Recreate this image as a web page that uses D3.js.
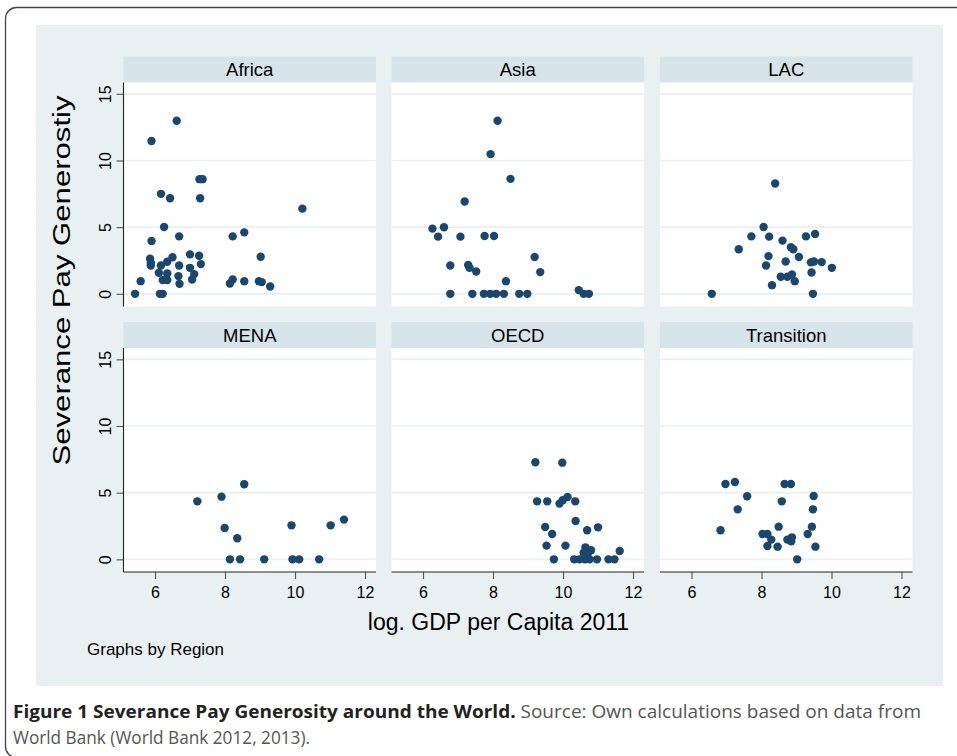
<!DOCTYPE html>
<html>
<head>
<meta charset="utf-8">
<script src="https://cdn.jsdelivr.net/npm/d3@7"></script>
<style>
html,body{margin:0;padding:0;background:#fff;}
svg{display:block;}
</style>
</head>
<body>
<svg id="chart" width="957" height="756"></svg>
<script>
// ---- data (log GDP per capita 2011, severance pay generosity) ----
const regions = ["Africa", "Asia", "LAC", "MENA", "OECD", "Transition"];
const xTicks = [6, 8, 10, 12];
const yTicks = [0, 5, 10, 15];

const africaX = [5.43,5.59,5.90,6.62,6.17,6.43,7.27,7.36,7.29,10.21,6.26,5.90,6.69,8.22,8.55,5.86,5.88,5.88,6.17,6.35,6.50,6.69,7.00,7.26,7.31,7.00,7.12,7.06,6.11,6.35,6.22,6.35,6.67,6.70,6.14,6.22,9.02,8.14,8.22,8.55,8.97,9.05,9.29,6.31];
const africaY = [0,0.95,11.46,12.98,7.50,7.17,8.60,8.60,7.17,6.39,5.01,3.96,4.31,4.31,4.61,2.63,2.33,2.13,2.13,2.41,2.74,2.13,2.96,2.86,2.23,1.95,1.48,1.08,1.58,1.53,1.03,1.03,1.33,0.75,0,0,2.78,0.78,1.08,0.95,0.95,0.88,0.55,1.10];

const asiaX = [8.13,7.93,8.50,7.19,6.27,6.60,6.43,7.07,7.76,8.03,9.19,9.35,6.78,7.29,7.33,7.52,8.37,6.78,7.41,7.74,7.92,8.09,8.31,8.75,8.98,10.45,10.59,10.74];
const asiaY = [12.98,10.48,8.62,6.92,4.89,4.99,4.29,4.29,4.34,4.34,2.76,1.63,2.13,2.16,1.95,1.68,0.95,0,0,0,0,0,0,0,0,0.28,0,0];

const lacX = [8.39,8.06,7.71,8.22,8.60,9.27,9.53,7.35,8.84,8.91,8.20,9.07,8.69,8.13,9.41,9.50,9.72,10.01,9.43,8.55,8.74,8.87,8.95,8.30,6.58,9.47];
const lacY = [8.27,5.01,4.31,4.29,3.99,4.31,4.49,3.34,3.49,3.34,2.83,2.76,2.43,2.13,2.36,2.43,2.38,1.95,1.60,1.28,1.28,1.45,0.95,0.65,0,0];

const menaX = [7.21,7.90,8.55,7.99,8.35,8.14,8.43,9.12,9.90,9.93,10.12,10.69,11.02,11.40];
const menaY = [4.35,4.70,5.63,2.35,1.58,0,0,0,2.55,0,0,0,2.55,2.98];

const oecdX = [9.21,9.98,9.26,9.55,9.90,9.99,10.13,10.35,10.36,9.49,9.69,10.69,11.00,9.53,10.07,10.64,10.80,10.59,10.70,11.62,9.74,10.32,10.47,10.63,10.76,10.97,11.30,11.47];
const oecdY = [7.28,7.25,4.35,4.35,4.18,4.43,4.68,4.35,2.88,2.43,1.90,2.18,2.40,1.03,1.03,0.90,0.68,0.50,0.38,0.63,0,0,0,0,0,0,0,0];

const transitionX = [6.97,7.24,8.66,8.84,7.59,9.49,8.58,7.32,9.47,6.83,8.49,9.44,8.03,8.17,9.32,8.28,8.74,8.87,8.85,8.17,8.46,9.54,9.02];
const transitionY = [5.65,5.80,5.65,5.65,4.73,4.75,4.35,3.75,3.75,2.18,2.45,2.45,1.90,1.90,1.90,1.48,1.48,1.65,1.35,1.00,0.95,0.95,0];

const seriesX = [africaX, asiaX, lacX, menaX, oecdX, transitionX];
const seriesY = [africaY, asiaY, lacY, menaY, oecdY, transitionY];

const xTitle = "log. GDP per Capita 2011";
const yTitle = "Severance Pay Generostiy";
const note = "Graphs by Region";
const captionBold = "Figure 1 Severance Pay Generosity around the World.";
const captionRest = " Source: Own calculations based on data from";
const captionLine2 = "World Bank (World Bank 2012, 2013).";

// ---- layout ----
const svg = d3.select("#chart");
const FONT = "'Liberation Sans', Arial, Helvetica, sans-serif";
const bgCol = "#e8f0f2", headCol = "#d6e4ea", gridCol = "#e8f0f2", dotCol = "#1a476f";

// outer rounded frame
svg.append("rect").attr("x", 5.5).attr("y", 7.5).attr("width", 1000).attr("height", 750)
  .attr("rx", 11).attr("fill", "#fff").attr("stroke", "#444").attr("stroke-width", 1.3);

// graph region background
svg.append("rect").attr("x", 36).attr("y", 25).attr("width", 907).attr("height", 661).attr("fill", bgCol);

const colLeft = [123.5, 391.5, 660];
const plotW = 252.5;
const rowHeadTop = [56.5, 322];
const headH = 26;
const plotH = 224;

const xDomain = [5.1, 5.1 + plotW / 35];
const yDomain = [-0.95, 15.85];

regions.forEach((name, i) => {
  const c = i % 3, r = Math.floor(i / 3);
  const x0 = colLeft[c];
  const hTop = rowHeadTop[r];
  const pTop = hTop + headH;
  const g = svg.append("g");

  // header strip
  g.append("rect").attr("x", x0).attr("y", hTop).attr("width", plotW).attr("height", headH).attr("fill", headCol);
  g.append("text").attr("x", x0 + plotW / 2).attr("y", hTop + 19.5)
    .attr("text-anchor", "middle").attr("font-family", FONT).attr("font-size", 18.5).attr("fill", "#000")
    .text(name);

  // plot area
  g.append("rect").attr("x", x0).attr("y", pTop).attr("width", plotW).attr("height", plotH).attr("fill", "#fff");

  const xs = d3.scaleLinear().domain(xDomain).range([x0, x0 + plotW]);
  const ys = d3.scaleLinear().domain(yDomain).range([pTop + plotH, pTop]);

  // gridlines
  g.selectAll("line.grid").data(yTicks).join("line").attr("class", "grid")
    .attr("x1", x0).attr("x2", x0 + plotW)
    .attr("y1", d => ys(d)).attr("y2", d => ys(d))
    .attr("stroke", gridCol).attr("stroke-width", 1.6);

  // y axis (left column)
  if (c === 0) {
    const ya = g.append("g").attr("transform", `translate(${x0},0)`)
      .call(d3.axisLeft(ys).tickValues(yTicks).tickSize(7).tickSizeOuter(0).tickPadding(6));
    ya.select(".domain").remove();
    ya.append("line").attr("x1", 0).attr("x2", 0).attr("y1", pTop).attr("y2", pTop + plotH)
      .attr("stroke", "#222").attr("stroke-width", 1.1);
    ya.selectAll(".tick line").attr("stroke", "#555").attr("stroke-width", 1.1);
    ya.selectAll(".tick text").remove();
    ya.selectAll(".tick").append("text")
      .attr("transform", "translate(-13,0) rotate(-90)")
      .attr("text-anchor", "middle").attr("font-family", FONT).attr("font-size", 16).attr("fill", "#000")
      .text(d => d);
  }
  // x axis (bottom row)
  if (r === 1) {
    const xa = g.append("g").attr("transform", `translate(0,${pTop + plotH})`)
      .call(d3.axisBottom(xs).tickValues(xTicks).tickSize(7).tickSizeOuter(0).tickPadding(8));
    xa.select(".domain").remove();
    xa.append("line").attr("x1", x0).attr("x2", x0 + plotW).attr("y1", 0).attr("y2", 0)
      .attr("stroke", "#222").attr("stroke-width", 1.1);
    xa.selectAll(".tick line").attr("stroke", "#555").attr("stroke-width", 1.1);
    xa.selectAll(".tick text").attr("font-family", FONT).attr("font-size", 16).attr("fill", "#000");
  }

  // points
  const pts = d3.range(seriesX[i].length).map(k => [seriesX[i][k], seriesY[i][k]]);
  g.selectAll("circle").data(pts).join("circle")
    .attr("cx", d => xs(d[0])).attr("cy", d => ys(d[1])).attr("r", 4.2)
    .attr("fill", dotCol);
});

// axis titles
svg.append("text").attr("x", 498.5).attr("y", 630).attr("text-anchor", "middle")
  .attr("font-family", FONT).attr("font-size", 23).attr("fill", "#000").text(xTitle);
svg.append("text").attr("transform", "translate(70,280.5) rotate(-90)").attr("text-anchor", "middle")
  .attr("font-family", FONT).attr("font-size", 23).attr("fill", "#000")
  .attr("textLength", 370).attr("lengthAdjust", "spacingAndGlyphs").text(yTitle);

svg.append("text").attr("x", 87).attr("y", 655)
  .attr("font-family", FONT).attr("font-size", 17).attr("fill", "#000").text(note);

// caption (justified first line)
const CAP = "'Open Sans', 'Noto Sans', sans-serif";
const cap1 = svg.append("text").attr("x", 13).attr("y", 718)
  .attr("font-family", CAP).attr("font-size", 18.5).attr("fill", "#555")
  .attr("textLength", 908).attr("lengthAdjust", "spacingAndGlyphs");
cap1.append("tspan").attr("font-weight", "bold").attr("fill", "#222").text(captionBold);
cap1.append("tspan").text(captionRest);
svg.append("text").attr("x", 13).attr("y", 744)
  .attr("font-family", CAP).attr("font-size", 18.5).attr("fill", "#555")
  .attr("textLength", 297).attr("lengthAdjust", "spacingAndGlyphs").text(captionLine2);
</script>
</body>
</html>
